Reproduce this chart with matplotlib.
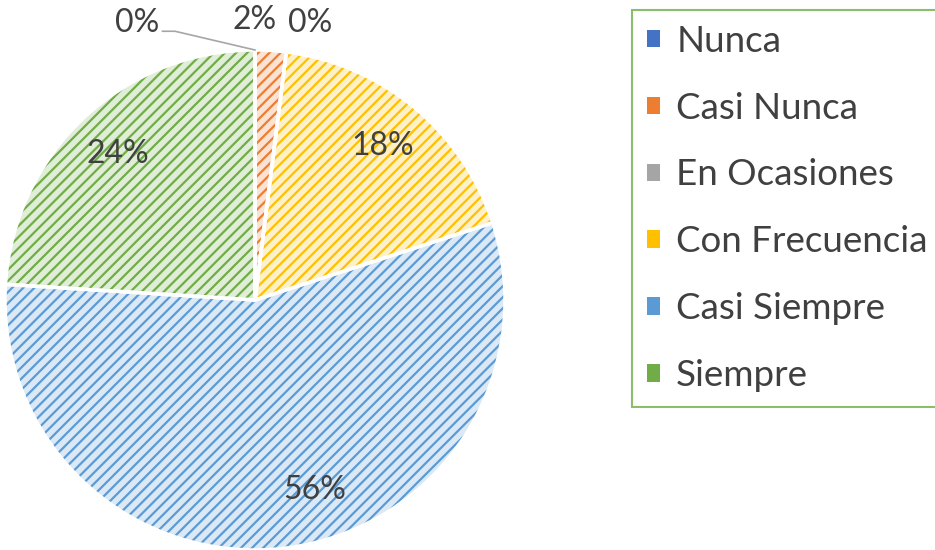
import matplotlib.pyplot as plt
from matplotlib.patches import Patch
import numpy as np

categories = ['Nunca', 'Casi Nunca', 'En Ocasiones', 'Con Frecuencia', 'Casi Siempre', 'Siempre']
values = [0, 2, 0, 18, 56, 24]
colors = ['#4472C4', '#ED7D31', '#A5A5A5', '#FFC000', '#5B9BD5', '#70AD47']

plt.rcParams['font.family'] = ['Lato', 'DejaVu Sans']
plt.rcParams['hatch.linewidth'] = 1.6
text_color = '#404040'


def lighten(c, amount=0.78):
    r, g, b = [int(c[i:i + 2], 16) / 255 for i in (1, 3, 5)]
    return (r + (1 - r) * amount, g + (1 - g) * amount, b + (1 - b) * amount)


fig = plt.figure(figsize=(9.35, 5.5), dpi=100)
ax = fig.add_axes([5 / 935, 0, 500 / 935, 500 / 550])

# hatched fill
wedges, _ = ax.pie(values, colors=[lighten(c) for c in colors], startangle=90,
                   counterclock=False, radius=1)
for w, c in zip(wedges, colors):
    w.set_hatch('///')
    w.set_edgecolor(c)
    w.set_linewidth(0)

# white borders on top
ax.pie(values, colors=['none'] * len(values), startangle=90, counterclock=False,
       radius=1, wedgeprops=dict(edgecolor='white', linewidth=2.5, fill=False))

ax.set_xlim(-1, 1)
ax.set_ylim(-1, 1)
ax.set_aspect('equal')

# percentage labels
for i, (w, v) in enumerate(zip(wedges, values)):
    ang = np.deg2rad((w.theta1 + w.theta2) / 2)
    label = f'{v}%'
    if v >= 10:
        r = 0.8
        x, y = r * np.cos(ang), r * np.sin(ang)
        if categories[i] == 'Casi Siempre':
            x, y = 0.24, -0.76
        ax.text(x, y, label, ha='center', va='center', fontsize=23, color=text_color)

# small slices at the top
ax.text(-0.47, 1.11, '0%', ha='center', va='center', fontsize=23, color=text_color, clip_on=False)
ax.plot([-0.37, -0.32, 0.0], [1.075, 1.075, 1.0], color='#A6A6A6', lw=1.2, clip_on=False)
ax.text(0.0, 1.12, '2%', ha='center', va='center', fontsize=23, color=text_color, clip_on=False)
ax.text(0.22, 1.11, '0%', ha='center', va='center', fontsize=23, color=text_color, clip_on=False)

handles = [Patch(facecolor=c, edgecolor='none') for c in colors]
leg = fig.legend(handles, categories, loc='upper left', bbox_to_anchor=(632 / 935, 1 - 10 / 550),
                 fontsize=26.5, frameon=True, fancybox=False, handlelength=0.35, handleheight=0.35,
                 handletextpad=0.45, labelspacing=0.92, borderpad=0.4, borderaxespad=0,
                 labelcolor=text_color)
leg.get_frame().set_edgecolor('#70AD47')
leg.get_frame().set_linewidth(1.5)

fig.savefig('out.png', dpi=100)
